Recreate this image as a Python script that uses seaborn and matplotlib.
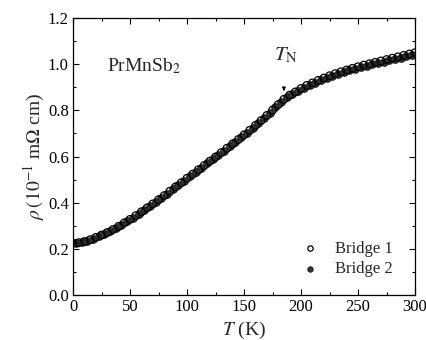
import matplotlib
matplotlib.use("Agg")
import matplotlib.pyplot as plt
import seaborn as sns
import pandas as pd
from matplotlib.ticker import MultipleLocator

# ---- data ----
T1 = [0, 5, 10, 15, 20, 25, 30, 35, 40, 45, 50, 55, 60, 65, 70, 75, 80, 85, 90, 95,
      100, 105, 110, 115, 120, 125, 130, 135, 140, 145, 150, 155, 160, 165, 170, 175,
      180, 185, 190, 195, 200, 205, 210, 215, 220, 225, 230, 235, 240, 245, 250, 255,
      260, 265, 270, 275, 280, 285, 290, 295, 300]
rho1 = [0.225, 0.227, 0.232, 0.240, 0.250, 0.260, 0.271, 0.284, 0.298, 0.313, 0.328,
        0.344, 0.361, 0.378, 0.395, 0.413, 0.431, 0.450, 0.469, 0.487, 0.506, 0.524,
        0.543, 0.561, 0.580, 0.598, 0.617, 0.636, 0.655, 0.674, 0.694, 0.714, 0.735,
        0.756, 0.778, 0.801, 0.825, 0.848, 0.866, 0.880, 0.895, 0.908, 0.919, 0.930,
        0.940, 0.950, 0.959, 0.967, 0.975, 0.982, 0.989, 0.996, 1.002, 1.008, 1.014,
        1.020, 1.026, 1.032, 1.038, 1.044, 1.050]

T2 = [2.5, 7.5, 12.5, 17.5, 22.5, 27.5, 32.5, 37.5, 42.5, 47.5, 52.5, 57.5, 62.5, 67.5,
      72.5, 77.5, 82.5, 87.5, 92.5, 97.5, 102.5, 107.5, 112.5, 117.5, 122.5, 127.5,
      132.5, 137.5, 142.5, 147.5, 152.5, 157.5, 162.5, 167.5, 172.5, 177.5, 182.5,
      187.5, 192.5, 197.5, 202.5, 207.5, 212.5, 217.5, 222.5, 227.5, 232.5, 237.5,
      242.5, 247.5, 252.5, 257.5, 262.5, 267.5, 272.5, 277.5, 282.5, 287.5, 292.5, 297.5]
rho2 = [0.224, 0.228, 0.235, 0.244, 0.254, 0.265, 0.277, 0.290, 0.305, 0.320, 0.336,
        0.352, 0.369, 0.386, 0.404, 0.422, 0.440, 0.459, 0.478, 0.496, 0.515, 0.533,
        0.552, 0.570, 0.589, 0.607, 0.626, 0.645, 0.664, 0.684, 0.704, 0.724, 0.745,
        0.767, 0.789, 0.813, 0.836, 0.856, 0.871, 0.884, 0.897, 0.909, 0.920, 0.930,
        0.940, 0.949, 0.958, 0.966, 0.973, 0.980, 0.987, 0.993, 0.999, 1.005, 1.011,
        1.017, 1.023, 1.029, 1.035, 1.041]

labels = ["Bridge 1", "Bridge 2"]

sns.set_theme(style="ticks")
plt.rcParams["font.family"] = ["Liberation Serif", "DejaVu Serif"]
plt.rcParams["mathtext.fontset"] = "stix"

fig = plt.figure(figsize=(4.27, 3.40), dpi=100)
ax = fig.add_axes([0.171, 0.132, 0.801, 0.815])

df1 = pd.DataFrame({"T": T1, "rho": rho1})
df2 = pd.DataFrame({"T": T2, "rho": rho2})

sns.scatterplot(data=df2, x="T", y="rho", ax=ax, s=30, marker="o",
                color="#333333", edgecolor="#1a1a1a", linewidth=0.7, label=labels[1], zorder=2)
sns.scatterplot(data=df1, x="T", y="rho", ax=ax, s=30, marker="o",
                facecolor="none", edgecolor="black", linewidth=0.9, label=labels[0], zorder=3)

ax.set_xlim(0, 300)
ax.set_ylim(0.0, 1.2)
ax.xaxis.set_major_locator(MultipleLocator(50))
ax.xaxis.set_minor_locator(MultipleLocator(25))
ax.yaxis.set_major_locator(MultipleLocator(0.2))
ax.yaxis.set_minor_locator(MultipleLocator(0.1))
ax.yaxis.set_major_formatter(matplotlib.ticker.FormatStrFormatter("%.1f"))
ax.tick_params(which="both", direction="in", top=True, right=True, labelsize=12,
               colors="black", pad=3)
ax.tick_params(which="major", length=4, width=0.8)
ax.tick_params(which="minor", length=2.5, width=0.8)
for sp in ax.spines.values():
    sp.set_linewidth(0.9)
    sp.set_color("black")

ax.set_xlabel(r"$T$ (K)", fontsize=14, labelpad=3)
ax.set_ylabel(r"$\rho\,(10^{-1}$ m$\Omega$ cm)", fontsize=14, labelpad=1)

ax.text(30, 0.99, r"PrMnSb$_2$", fontsize=14, va="center", ha="left")
ax.text(176, 1.04, r"$T_{\rm N}$", fontsize=15, va="center", ha="left")
ax.annotate("", xy=(185, 0.872), xytext=(185, 0.905),
            arrowprops=dict(arrowstyle="-|>", color="black", lw=0.8,
                            mutation_scale=5))

h, l = ax.get_legend_handles_labels()
order = [l.index(labels[0]), l.index(labels[1])]
leg = ax.legend([h[i] for i in order], [l[i] for i in order], loc="lower right",
                frameon=False, fontsize=12, handletextpad=0.5, borderaxespad=0.6,
                labelspacing=0.25, markerscale=0.7, bbox_to_anchor=(0.985, 0.005))

fig.savefig("out.png", dpi=100)
